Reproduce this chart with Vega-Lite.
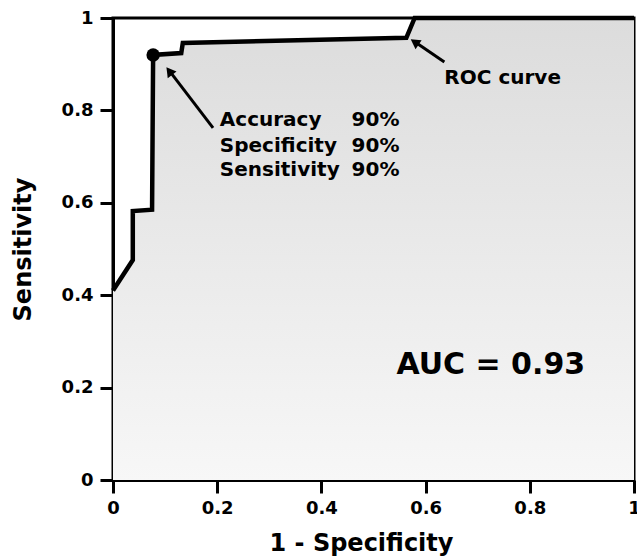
{
  "$schema": "https://vega.github.io/schema/vega-lite/v6.json",
  "autosize": {"type": "none"},
  "padding": {"left": 113, "top": 18, "right": 3, "bottom": 78},
  "width": 521,
  "height": 462,
  "background": "white",
  "config": {
    "view": {"stroke": "black", "strokeWidth": 3},
    "font": "DejaVu Sans",
    "axis": {
      "domainColor": "black", "domainWidth": 3, "tickColor": "black", "tickWidth": 3, "tickSize": 13,
      "labelFont": "DejaVu Sans", "labelFontWeight": "bold", "labelFontSize": 18, "labelColor": "black",
      "labelFlush": false, "labelOverlap": false,
      "titleFont": "DejaVu Sans", "titleFontWeight": "bold", "titleFontSize": 24, "titleColor": "black",
      "grid": false
    }
  },
  "datasets": {
    "roc": [
      {"i": 0, "fpr": 0, "tpr": 0.41},
      {"i": 1, "fpr": 0.038, "tpr": 0.476},
      {"i": 2, "fpr": 0.038, "tpr": 0.582},
      {"i": 3, "fpr": 0.075, "tpr": 0.585},
      {"i": 4, "fpr": 0.077, "tpr": 0.92},
      {"i": 5, "fpr": 0.131, "tpr": 0.924},
      {"i": 6, "fpr": 0.134, "tpr": 0.946},
      {"i": 7, "fpr": 0.563, "tpr": 0.957},
      {"i": 8, "fpr": 0.579, "tpr": 1},
      {"i": 9, "fpr": 1, "tpr": 1}
    ]
  },
  "layer": [
    {
      "data": {"name": "roc"},
      "mark": {"type": "area", "interpolate": "linear", "orient": "vertical", "opacity": 1, "fill": {"gradient": "linear", "x1": 0, "y1": 0, "x2": 0, "y2": 1, "stops": [{"offset": 0, "color": "#dcdcdc"}, {"offset": 1, "color": "#f7f7f7"}]}},
      "encoding": {
        "x": {"field": "fpr", "type": "quantitative", "scale": {"domain": [0, 1]}, "axis": {"title": "1 - Specificity", "values": [0, 0.2, 0.4, 0.6, 0.8, 1], "format": ".1~f", "labelPadding": 6, "titlePadding": 14, "titleX": 248}},
        "y": {"field": "tpr", "type": "quantitative", "stack": null, "scale": {"domain": [0, 1]}, "axis": {"title": "Sensitivity", "values": [0, 0.2, 0.4, 0.6, 0.8, 1], "format": ".1~f", "labelPadding": 7, "titlePadding": 26}},
        "y2": {"datum": 0}
      }
    },
    {
      "data": {"name": "roc"},
      "mark": {"type": "line", "color": "black", "strokeWidth": 4.5, "strokeJoin": "miter"},
      "encoding": {
        "x": {"field": "fpr", "type": "quantitative"},
        "y": {"field": "tpr", "type": "quantitative"},
        "order": {"field": "i", "type": "quantitative"}
      }
    },
    {
      "data": {"values": [{"fpr": 0.077, "tpr": 0.92}]},
      "mark": {"type": "point", "filled": true, "color": "black", "size": 180, "opacity": 1},
      "encoding": {"x": {"field": "fpr", "type": "quantitative"}, "y": {"field": "tpr", "type": "quantitative"}}
    },
    {
      "data": {"values": [
        {"x": 0.192, "y": 0.762, "x2": 0.112, "y2": 0.88},
        {"x": 0.636, "y": 0.905, "x2": 0.584, "y2": 0.945}
      ]},
      "mark": {"type": "rule", "color": "black", "strokeWidth": 3},
      "encoding": {
        "x": {"field": "x", "type": "quantitative"}, "y": {"field": "y", "type": "quantitative"},
        "x2": {"field": "x2"}, "y2": {"field": "y2"}
      }
    },
    {
      "data": {"values": [{"x": 0.108, "y": 0.885}]},
      "mark": {"type": "point", "shape": "triangle-up", "filled": true, "color": "black", "size": 120, "opacity": 1, "angle": 323},
      "encoding": {"x": {"field": "x", "type": "quantitative"}, "y": {"field": "y", "type": "quantitative"}}
    },
    {
      "data": {"values": [{"x": 0.579, "y": 0.948}]},
      "mark": {"type": "point", "shape": "triangle-up", "filled": true, "color": "black", "size": 120, "opacity": 1, "angle": 304},
      "encoding": {"x": {"field": "x", "type": "quantitative"}, "y": {"field": "y", "type": "quantitative"}}
    },
    {
      "data": {"values": [
        {"x": 0.205, "y": 0.779, "label": "Accuracy"},
        {"x": 0.205, "y": 0.723, "label": "Specificity"},
        {"x": 0.205, "y": 0.671, "label": "Sensitivity"},
        {"x": 0.458, "y": 0.779, "label": "90%"},
        {"x": 0.458, "y": 0.723, "label": "90%"},
        {"x": 0.458, "y": 0.671, "label": "90%"},
        {"x": 0.636, "y": 0.870, "label": "ROC curve"}
      ]},
      "mark": {"type": "text", "align": "left", "baseline": "middle", "font": "DejaVu Sans", "fontWeight": "bold", "fontSize": 20, "color": "black"},
      "encoding": {"x": {"field": "x", "type": "quantitative"}, "y": {"field": "y", "type": "quantitative"}, "text": {"field": "label"}}
    },
    {
      "data": {"values": [{"x": 0.544, "y": 0.25, "label": "AUC = 0.93"}]},
      "mark": {"type": "text", "align": "left", "baseline": "middle", "font": "DejaVu Sans", "fontWeight": "bold", "fontSize": 30, "color": "black"},
      "encoding": {"x": {"field": "x", "type": "quantitative"}, "y": {"field": "y", "type": "quantitative"}, "text": {"field": "label"}}
    }
  ]
}
